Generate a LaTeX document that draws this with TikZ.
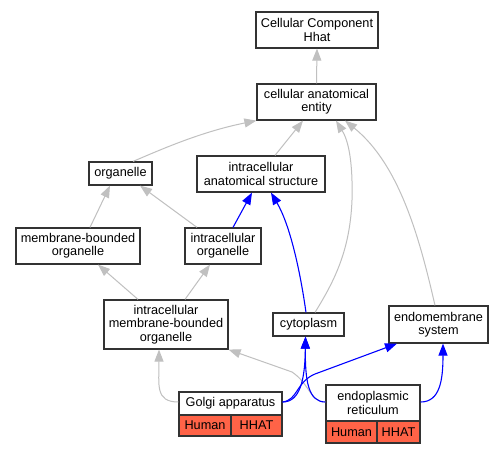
\documentclass[tikz,border=0pt]{standalone}
\usepackage{fontspec}
\setmainfont{Liberation Sans}
\usetikzlibrary{arrows.meta}
\definecolor{edgegray}{RGB}{192,192,192}
\definecolor{boxline}{RGB}{51,51,51}
\definecolor{tomatofill}{RGB}{255,99,71}
\begin{document}
\begin{tikzpicture}[x=1pt,y=-1pt,
  box/.style={draw=boxline,line width=1.2pt,fill=white,inner sep=0pt,align=center,
    font=\fontsize{12.7}{13.3}\selectfont},
  cell/.style={draw=boxline,line width=1.2pt,fill=tomatofill,inner sep=0pt,
    font=\fontsize{12.7}{13.3}\selectfont},
  isa/.style={draw=edgegray,line width=1pt,-{Triangle[length=12pt,width=9pt]}},
  partof/.style={draw=blue,line width=1.1pt,-{Triangle[length=12pt,width=9pt]}}]
\useasboundingbox[fill=white] (0,0) rectangle (504,453);
% nodes
\node[box,minimum width=122pt,minimum height=36pt] (cch) at (317,30) {Cellular Component\\Hhat};
\node[box,minimum width=119pt,minimum height=36pt] (cae) at (316.5,102) {cellular anatomical\\entity};
\node[box,minimum width=63pt,minimum height=23pt] (org) at (120.5,173.5) {organelle};
\node[box,minimum width=128pt,minimum height=36pt] (ias) at (261,174) {intracellular\\anatomical structure};
\node[box,minimum width=124pt,minimum height=36pt] (mbo) at (78,246) {membrane-bounded\\organelle};
\node[box,minimum width=76pt,minimum height=36pt] (io) at (223,246) {intracellular\\organelle};
\node[box,minimum width=124pt,minimum height=49pt] (imbo) at (166,324.5) {intracellular\\membrane-bounded\\organelle};
\node[box,minimum width=71pt,minimum height=23pt] (cyt) at (308.5,324.5) {cytoplasm};
\node[box,minimum width=99pt,minimum height=37pt] (ems) at (438.5,324.5) {endomembrane\\system};
% Golgi apparatus
\node[box,minimum width=103pt,minimum height=23pt] (golgi) at (230.5,403.5) {Golgi apparatus};
\node[cell,minimum width=52pt,minimum height=21pt] (golgiH) at (205,425.5) {Human};
\node[cell,minimum width=51pt,minimum height=21pt] (golgiT) at (256.5,425.5) {HHAT};
% endoplasmic reticulum
\node[box,minimum width=94pt,minimum height=36pt] (er) at (373,403) {endoplasmic\\reticulum};
\node[cell,minimum width=51pt,minimum height=22pt] (erH) at (351.5,432) {Human};
\node[cell,minimum width=43pt,minimum height=22pt] (erT) at (398.5,432) {HHAT};
% is_a edges (gray)
\draw[isa] (cae.north) -- (cch.south);
\draw[isa] (org.north -| 133,0) .. controls (160,150) and (200,132) .. (cae.south west);
\draw[isa] (ias.north -| 275,0) -- (cae.south -| 303,0);
\draw[isa] (cyt.north -| 315,0) .. controls (335,280) and (350,250) .. (352,200)
   .. controls (353,160) and (348,140) .. (cae.south -| 336,0);
\draw[isa] (ems.north -| 435,0) .. controls (420,240) and (400,165) .. (cae.south -| 345,0);
\draw[isa] (mbo.north -| 90,0) -- (org.south -| 110,0);
\draw[isa] (io.north -| 197,0) -- (org.south -| 140,0);
\draw[isa] (imbo.north -| 138,0) -- (mbo.south -| 98,0);
\draw[isa] (imbo.north -| 185,0) -- (io.south -| 210,0);
\draw[isa] (golgi.west |- 0,402) .. controls (155,402) and (159,385) .. (imbo.south -| 159,0);
\draw[isa] (er.west |- 0,402) .. controls (310,402) and (310,384) .. (292,372) -- (imbo.south east);
% part_of edges (blue)
\draw[partof] (io.north -| 233,0) -- (ias.south -| 252,0);
\draw[partof] (cyt.north -| 306,0) .. controls (300,270) and (290,225) .. (ias.south -| 271,0);
\draw[partof] (golgi.east |- 0,402) .. controls (300,402) and (305,380) .. (cyt.south -| 305.5,0);
\draw[partof] (er.west |- 0,402) .. controls (308,402) and (305,380) .. (cyt.south -| 305.5,0);
\draw[partof] (golgi.east |- 0,402) .. controls (298,400) and (296,382) .. (315,374) -- (ems.south -| 397,0);
\draw[partof] (er.east |- 0,402) .. controls (440,402) and (443,380) .. (ems.south -| 443,0);
\end{tikzpicture}
\end{document}
